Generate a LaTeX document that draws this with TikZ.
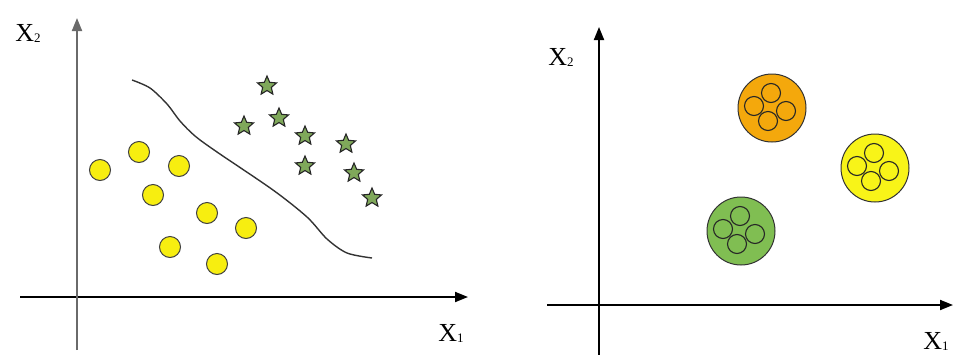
\documentclass[tikz,border=0pt]{standalone}
\usepackage{fontspec}
\setmainfont{Liberation Serif}
\usepackage{tikz}
\usetikzlibrary{shapes.geometric,arrows.meta}
\definecolor{DotYellow}{HTML}{F7EE10}
\definecolor{StarGreen}{HTML}{7FA85A}
\definecolor{BlobOrange}{HTML}{F4A80C}
\definecolor{BlobYellow}{HTML}{F8F418}
\definecolor{BlobGreen}{HTML}{80BE52}
\definecolor{AxisGray}{HTML}{6A6A6A}
\newcommand{\axlabel}[1]{X\raisebox{-1pt}{\fontsize{13}{13}\selectfont #1}}

\begin{document}
\begin{tikzpicture}[x=1pt, y=-1pt, every node/.style={font=\fontsize{26}{28}\selectfont, inner sep=0pt}]
  \tikzstyle{axis}=[line width=1.9pt, -{Triangle[length=13pt,width=10pt]}]
  \tikzstyle{dot}=[circle, draw=black!75, line width=1pt, fill=DotYellow, minimum size=21pt, inner sep=0pt]
  \tikzstyle{starpt}=[star, star points=5, star point ratio=2.2, draw=black!85, line width=1.1pt,
  fill=StarGreen, minimum size=20pt, inner sep=0pt]
  \tikzstyle{blob}=[circle, draw=black!80, line width=1pt, minimum size=68pt, inner sep=0pt]
  \tikzstyle{cell}=[circle, draw=black!85, line width=1.1pt, minimum size=19pt, inner sep=0pt]
  \useasboundingbox (0,0) rectangle (953,354);
  % left panel
  \coordinate (lytop) at (77,18);
  \coordinate (lybot) at (77,350);
  \coordinate (lxleft) at (20,297);
  \coordinate (lxright) at (468,297);
  \draw[axis, color=black] (lxleft) -- (lxright);
  \draw[axis, color=AxisGray] (lybot) -- (lytop);
  \node (lxtwo) at (28,33) {\axlabel{2}};
  \node (lxone) at (451,333) {\axlabel{1}};
  \draw[line width=1.4pt, color=black!80] plot[smooth, tension=0.5] coordinates {
    (132,80) (150,88) (167,104) (180,121) (195,136) (217,152) (273,190)
    (307,217) (327,239) (347,253) (372,258)};
  \foreach \px/\py [count=\i] in {100/170, 139/152, 179/166, 153/195, 207/213, 246/228, 170/247, 217/264}
    \node[dot] (dot\i) at (\px,\py) {};
  \foreach \px/\py [count=\i] in {267/86, 244/126, 279/118, 305/136, 346/144, 305/166, 354/173, 372/198}
    \node[starpt] (star\i) at (\px,\py) {};
  % right panel
  \coordinate (rytop) at (599,27);
  \coordinate (rybot) at (599,356);
  \coordinate (rxleft) at (547,305);
  \coordinate (rxright) at (953,305);
  \draw[axis, color=black] (rxleft) -- (rxright);
  \draw[axis, color=black] (rybot) -- (rytop);
  \node (rxtwo) at (561,57) {\axlabel{2}};
  \node (rxone) at (936,341) {\axlabel{1}};
  \foreach \name/\px/\py/\col in {orange/772/108/BlobOrange, yellow/875/168/BlobYellow, green/741/231/BlobGreen} {
    \node[blob, fill=\col] (\name) at (\px,\py) {};
    \node[cell] (\name top) at ([shift={(-1,-15)}]\name.center) {};
    \node[cell] (\name left) at ([shift={(-18,-2)}]\name.center) {};
    \node[cell] (\name right) at ([shift={(14,3)}]\name.center) {};
    \node[cell] (\name bottom) at ([shift={(-4,13)}]\name.center) {};
  }
\end{tikzpicture}
\end{document}
